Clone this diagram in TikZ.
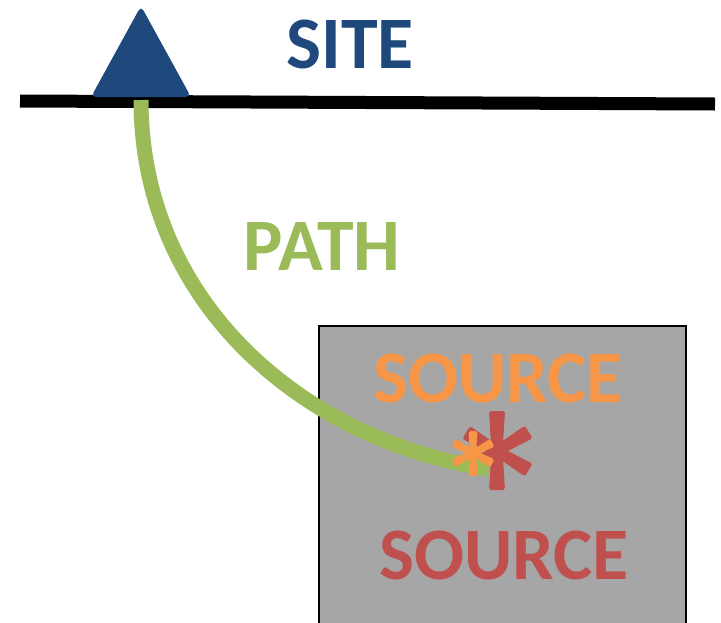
\documentclass[tikz,border=0pt]{standalone}
\usepackage{fontspec}
\setmainfont{Carlito}
\definecolor{siteblue}{HTML}{1F497D}
\definecolor{pathgreen}{HTML}{9BBB59}
\definecolor{srcorange}{HTML}{F79646}
\definecolor{srcred}{HTML}{C0504D}
\definecolor{boxgray}{HTML}{A6A6A6}
\tikzset{
  lbl/.style={font=\fontsize{74}{80}\selectfont\bfseries, inner sep=0pt, anchor=base},
}
% tapered arm: colour, centre x, centre y, angle, length, inner width, tip width
\newcommand{\taperarm}[7]{%
  \begin{scope}[shift={(#2,#3)}, rotate=#4]
    \fill[#1, rounded corners=2.5pt] (0,-#6/2) -- (#5,-#7/2) -- (#5,#7/2) -- (0,#6/2) -- cycle;
  \end{scope}}
\begin{document}
\begin{tikzpicture}[x=1pt,y=-1pt]
\useasboundingbox (0,0) rectangle (721,622);
% source box
\draw[fill=boxgray, line width=2.5pt] (319,326) rectangle (686,640);
% ground line
\draw[line width=13pt] (20,101) -- (715,104);
% site triangle
\fill[siteblue, rounded corners=5pt] (141,6) -- (191,97) -- (91,97) -- cycle;
\coordinate (site) at (141,100);
\coordinate (hypo) at (489,469);
% labels
\node[lbl, text=siteblue] (sitelbl) at (350,68) {SITE};
\node[lbl, text=pathgreen] (pathlbl) at (322,270) {PATH};
\node[lbl, text=srcorange] (src1) at (498,402) {SOURCE};
\node[lbl, text=srcred] (src2) at (504,579) {SOURCE};
% red asterisk
\coordinate (rc) at (497,451);
\taperarm{srcred}{497}{451}{90}{40}{11}{16}
\taperarm{srcred}{497}{451}{-90}{39}{11}{16}
\taperarm{srcred}{497}{451}{31}{37}{10}{15}
\taperarm{srcred}{497}{451}{-31}{37}{10}{15}
\taperarm{srcred}{497}{451}{149}{36}{10}{15}
\taperarm{srcred}{497}{451}{-149}{34}{10}{15}
% path
\draw[pathgreen, line width=15pt] (site) .. controls (141,300) and (300,440) .. (hypo);
% orange asterisk
\coordinate (oc) at (473,453);
\taperarm{srcorange}{473}{453}{90}{22}{6}{9}
\taperarm{srcorange}{473}{453}{-90}{23}{6}{9}
\taperarm{srcorange}{473}{453}{28}{22}{6}{9}
\taperarm{srcorange}{473}{453}{-28}{22}{6}{9}
\taperarm{srcorange}{473}{453}{152}{22}{6}{9}
\taperarm{srcorange}{473}{453}{-152}{22}{6}{9}
\end{tikzpicture}
\end{document}
